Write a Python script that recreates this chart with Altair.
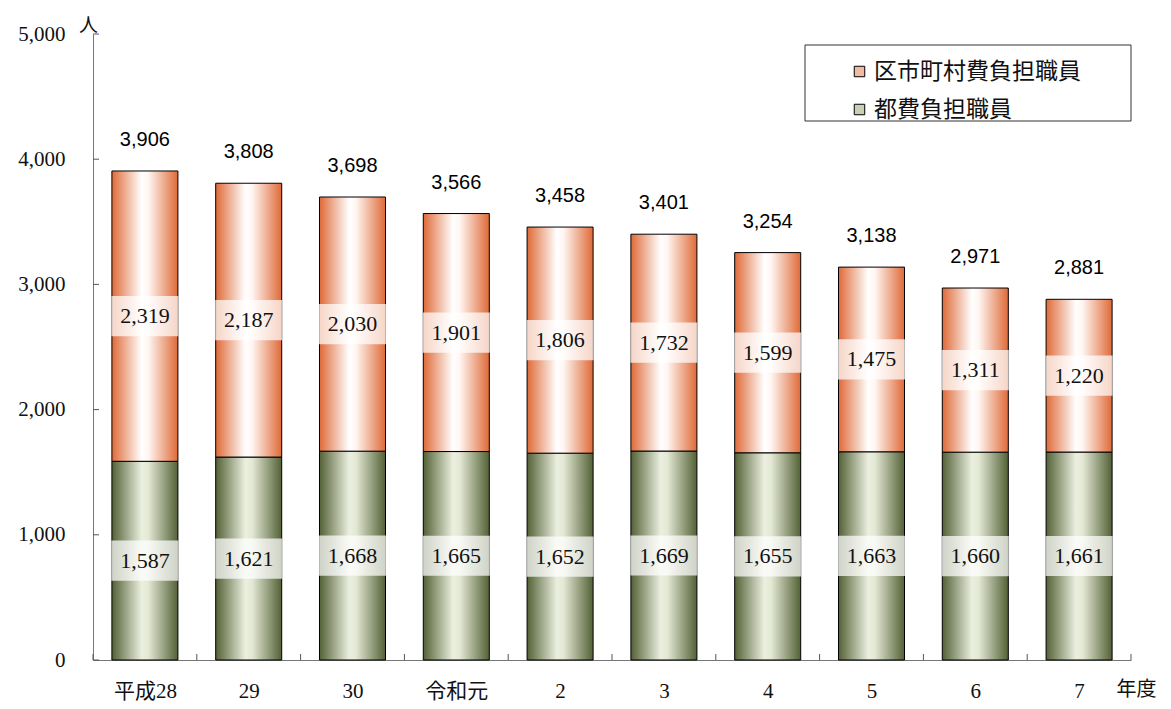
import altair as alt
import pandas as pd

# ---- data ----
years = ["平成28", "29", "30", "令和元", "2", "3", "4", "5", "6", "7"]
to_staff = [1587, 1621, 1668, 1665, 1652, 1669, 1655, 1663, 1660, 1661]      # 都費負担職員
ku_staff = [2319, 2187, 2030, 1901, 1806, 1732, 1599, 1475, 1311, 1220]      # 区市町村費負担職員
series_names = ["区市町村費負担職員", "都費負担職員"]
y_ticks = [0, 1000, 2000, 3000, 4000, 5000]

df = pd.DataFrame({
    "idx": list(range(len(years))),
    "year": years,
    "to": to_staff,
    "ku": ku_staff,
})
bounds = pd.DataFrame({"b": [i - 0.5 for i in range(len(years) + 1)]})
yt = pd.DataFrame({"v": y_ticks})

W, H = 1038, 626
HALF = 0.318
SERIF = "Liberation Serif, Noto Sans CJK JP"
SANS_JP = "Noto Sans CJK JP"

xscale = alt.Scale(domain=[-0.5, len(years) - 0.5], nice=False, zero=False)
yscale = alt.Scale(domain=[0, 5000], nice=False)

label_expr = "[" + ",".join("'%s'" % y for y in years) + "][datum.value]"

orange_grad = {
    "gradient": "linear", "x1": 0, "x2": 1, "y1": 0, "y2": 0,
    "stops": [
        {"offset": 0, "color": "#DF6A38"},
        {"offset": 0.45, "color": "#FFFFFF"},
        {"offset": 0.55, "color": "#FFF6F2"},
        {"offset": 1, "color": "#DF6A38"},
    ],
}
green_grad = {
    "gradient": "linear", "x1": 0, "x2": 1, "y1": 0, "y2": 0,
    "stops": [
        {"offset": 0, "color": "#536136"},
        {"offset": 0.45, "color": "#EBEFDF"},
        {"offset": 0.55, "color": "#E4E9D5"},
        {"offset": 1, "color": "#536136"},
    ],
}

base = alt.Chart(df).transform_calculate(
    x1=f"datum.idx - {HALF}",
    x2=f"datum.idx + {HALF}",
    total="datum.to + datum.ku",
    mid_to="datum.to / 2",
    mid_ku="datum.to + datum.ku / 2",
)

x_axis = alt.Axis(
    values=list(range(len(years))), labelExpr=label_expr, ticks=False, grid=False,
    domainColor="#777", domainWidth=1, labelFont=SERIF, labelFontSize=21,
    labelColor="#111", labelPadding=20, labelFlush=False, labelOverlap=False,
    title="年度", titleFont=SANS_JP, titleFontSize=20, titleFontWeight="normal",
    titleColor="#111", titleX=1043, titleY=29, titleAlign="center",
    titleBaseline="middle", titleAngle=0,
)
y_axis = alt.Axis(
    values=y_ticks, format=",d", ticks=False, grid=False, domainColor="#777",
    domainWidth=1, labelFont=SERIF, labelFontSize=21, labelColor="#111",
    labelPadding=28, labelBaseline="middle",
    title="人", titleFont=SANS_JP, titleFontSize=19, titleFontWeight="normal",
    titleColor="#111", titleX=-5, titleY=-9, titleAngle=0, titleAlign="center",
    titleBaseline="middle",
)

green_bars = base.mark_rect(fill=green_grad, stroke="#000", strokeWidth=1).encode(
    x=alt.X("x1:Q", scale=xscale, axis=x_axis),
    x2="x2:Q",
    y=alt.Y("to:Q", scale=yscale, axis=y_axis),
    y2=alt.datum(0),
)
orange_bars = base.mark_rect(fill=orange_grad, stroke="#000", strokeWidth=1).encode(
    x=alt.X("x1:Q", scale=xscale),
    x2="x2:Q",
    y=alt.Y("total:Q", scale=yscale),
    y2="to:Q",
)

box_shape = "M-1,-0.6L1,-0.6L1,0.6L-1,0.6Z"
box_ku = base.mark_point(shape=box_shape, size=4489, filled=True, fill="white",
                         fillOpacity=0.72, strokeWidth=0).encode(
    x=alt.X("idx:Q", scale=xscale), y=alt.Y("mid_ku:Q", scale=yscale))
box_to = base.mark_point(shape=box_shape, size=4489, filled=True, fill="white",
                         fillOpacity=0.72, strokeWidth=0).encode(
    x=alt.X("idx:Q", scale=xscale), y=alt.Y("mid_to:Q", scale=yscale))

txt_ku = base.mark_text(font=SERIF, fontSize=22, color="#111", baseline="middle").encode(
    x=alt.X("idx:Q", scale=xscale), y=alt.Y("mid_ku:Q", scale=yscale),
    text=alt.Text("ku:Q", format=",d"))
txt_to = base.mark_text(font=SERIF, fontSize=22, color="#111", baseline="middle").encode(
    x=alt.X("idx:Q", scale=xscale), y=alt.Y("mid_to:Q", scale=yscale),
    text=alt.Text("to:Q", format=",d"))
txt_total = base.mark_text(font="Liberation Sans", fontSize=20, color="#000",
                           baseline="alphabetic", dy=-25).encode(
    x=alt.X("idx:Q", scale=xscale), y=alt.Y("total:Q", scale=yscale),
    text=alt.Text("total:Q", format=",d"))

x_ticks = alt.Chart(bounds).mark_rule(color="#555", strokeWidth=1).encode(
    x=alt.X("b:Q", scale=xscale), y=alt.Y(datum=0, scale=yscale),
    y2=alt.value(H - 6))
y_tick_marks = alt.Chart(yt).mark_rule(color="#555", strokeWidth=1).encode(
    y=alt.Y("v:Q", scale=yscale), x=alt.value(0), x2=alt.value(6))

legend_box = alt.Chart(alt.Data(values=[{}])).mark_rect(
    fill="white", stroke="#333", strokeWidth=1).encode(
    x=alt.value(712), x2=alt.value(1038), y=alt.value(11), y2=alt.value(87))

legend_layer = alt.Chart(alt.Data(values=[{"series": s} for s in series_names])).mark_point(
    opacity=0, filled=True).encode(
    color=alt.Color("series:N",
                    scale=alt.Scale(domain=series_names, range=["#F1BBA2", "#C8D0B6"]),
                    legend=alt.Legend(
                        orient="none", legendX=755, legendY=26, title=None,
                        symbolType="square", symbolSize=110, symbolStrokeColor="#000",
                        symbolStrokeWidth=1, symbolOpacity=1, labelFont=SANS_JP,
                        labelFontSize=23, labelColor="#111", labelOffset=3,
                        rowPadding=14, padding=0, labelLimit=400)))

chart = alt.layer(
    green_bars, orange_bars, box_ku, box_to, txt_ku, txt_to, txt_total,
    x_ticks, y_tick_marks, legend_box, legend_layer,
).properties(
    width=W, height=H,
    autosize=alt.AutoSizeParams(type="none"),
    padding={"left": 85, "top": 26, "right": 30, "bottom": 41},
    background="white",
).configure_view(stroke=None)

chart.save("out.html", embed_options={"renderer": "svg", "actions": False})
